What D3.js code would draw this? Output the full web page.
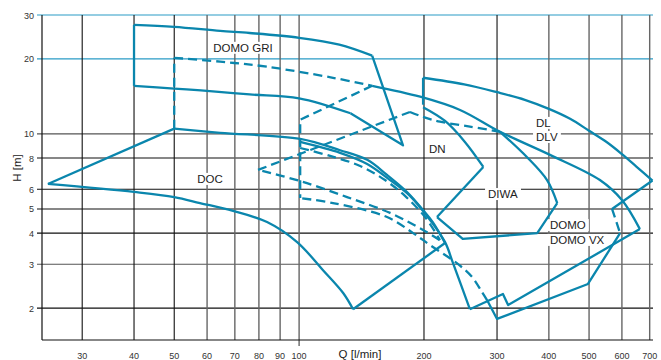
<!DOCTYPE html>
<html><head><meta charset="utf-8">
<script src="https://cdn.jsdelivr.net/npm/d3@7"></script>
<style>body{margin:0;background:#fff}</style>
</head><body><svg id="c" width="661" height="360"></svg>
<script>
// ---- data (Q in l/min, H in m) ----
const xTicks = [30,40,50,60,70,80,90,100,200,300,400,500,600,700];
const yTicks = [2,3,4,5,6,8,10,20,30];
// DOMO GRI
const griTop = [[40,27.4],[50,26.9],[64.5,25.9],[76,25.4],[100,24.3],[125,22.8],[150,20.6]];
const griEdge = [[150,20.6],[178,9.0],[133,12.1]];
const griBottom = [[133,12.1],[100,13.9],[76,14.4],[58,14.95],[50,15.2],[40,15.6]];
const griLeft = [[40,15.6],[40,27.4]];
const griDashTop = [[50,20.2],[64.5,19.5],[83.7,18.6],[120.7,16.8],[150,15.6]];
const griDashEdges = [[50,10.5],[50,20.2]];
const vxDashEdge = [[150,15.6],[100.6,11.4],[100.6,5.53]];
// DOC
const docRise = [[24.8,6.3],[50,10.5]];
const docTop = [[50,10.5],[64.5,10.1],[100.6,9.55],[125.5,8.6],[145.9,7.87],[162.9,6.85],[182,5.85],[199,4.95],[210,4.43],[224.8,3.65]];
const docEnd = [[224.8,3.65],[134.9,1.98]];
const docBottom = [[134.9,1.98],[127.7,2.3],[114.2,2.84],[98.9,3.68],[83.7,4.43],[69.3,4.91],[57.7,5.28],[50,5.58],[40,5.85],[24.8,6.3]];
// DL / DLV
const dlLeft = [[199,13.1],[199,16.8]];
const dlTop = [[199,16.8],[250,15.8],[300,14.7],[350,13.7],[400,12.6],[450,11.5],[500,10.3],[550,9.3],[600,8.3],[650,7.4],[711,6.5]];
const dlRight = [[711,6.5],[568,5.0]];
const dlvLowDash = [[218,3.75],[199,4.12],[165.7,4.82],[130.5,5.58],[100.6,6.47],[79.6,7.17]];
const dlvRiseDash = [[79.6,7.17],[185,12.25]];
const dlvTopDash = [[185,12.25],[199,11.7],[218.6,11.2],[258,10.7],[305,10.2]];
// DOMO / DOMO VX
const domoTop = [[150,15.6],[195.8,14.1],[244.3,12.48],[305,10.2],[402.5,8.24],[531,6.53],[600,5.43],[663,4.15]];
const domoBottom = [[663,4.15],[319,2.06],[310,2.28],[258,1.98]];
const domoMin = [[258,1.98],[235,3.03],[224.8,3.68],[206.9,4.51],[185,5.64],[165.7,6.53],[145.9,7.58],[125.5,8.4],[100.6,9.29]];
const vxMidDash = [[100.6,8.78],[118.8,8.16],[140.3,7.44],[161.1,6.53],[180,5.64],[201.2,4.64],[218.6,3.75]];
const vxRightDash = [[568,5.0],[594,4.0]];
const vxBottom = [[594,4.0],[497,2.5],[300,1.81],[284,2.15]];
const vxMinDash = [[284,2.15],[276,2.32],[261,2.67],[240,3.03],[206.9,3.58],[188.3,4.0],[162.9,4.64],[120.7,5.28],[100.6,5.53]];
// DIWA, DN
const diwaTop = [[305,10.2],[354,8.08],[396,6.53],[419,5.28]];
const diwaEdges = [[419,5.28],[375,4.0],[248,3.79],[215,4.64]];
const dnTop = [[199,12.8],[224.8,11.27],[251,9.29],[278,7.37]];
const dnEdge = [[278,7.37],[215,4.64]];
const labels = [["DOMO GRI",62.1,21.35],["DOC",56.8,6.36],["DN",205.7,8.39],["DL",372.5,10.67],["DLV",372.5,9.37],["DIWA",285.4,5.53],["DOMO",402.5,4.15],["DOMO VX",402.5,3.62]];

const curves = [griTop, griBottom, docTop, docBottom, dlTop, domoTop, domoMin, diwaTop, dnTop];
const edges = [griEdge, griLeft, docRise, docEnd, dlLeft, dlRight, domoBottom, vxBottom, diwaEdges, dnEdge];
const dashCurves = [griDashTop, dlvLowDash, dlvTopDash, vxMidDash, vxMinDash];
const dashEdges = [griDashEdges, vxDashEdge, dlvRiseDash, vxRightDash];

// ---- drawing ----
const svg = d3.select("#c");
const x = d3.scaleLog().domain([24,713]).range([42,653]);
const y = d3.scaleLog().domain([1.49,30]).range([340,15]);
const C = "#0a86ad";
const F = "Liberation Sans, Arial, sans-serif";

const g = svg.append("g");
yTicks.forEach(v=>{
  g.append("line").attr("x1",37).attr("x2",653).attr("y1",y(v)).attr("y2",y(v))
   .attr("stroke", v>=20 ? "#2a9bc6" : ([3,10].includes(v)?"#555":"#111"))
   .attr("stroke-width", v>=20?1.2:1.1);
});
xTicks.forEach(v=>{
  const dark=[30,40,50,200,300].includes(v);
  g.append("line").attr("x1",x(v)).attr("x2",x(v)).attr("y1",15).attr("y2", v===100?346:340)
   .attr("stroke", dark ? "#111" : "#666").attr("stroke-width", dark?1.1:1.4);
});
g.append("line").attr("x1",42).attr("x2",42).attr("y1",15).attr("y2",340).attr("stroke","#111").attr("stroke-width",1.2);
g.append("line").attr("x1",42).attr("x2",653).attr("y1",340).attr("y2",340).attr("stroke","#111").attr("stroke-width",1.2);

g.selectAll(".yt").data(yTicks).enter().append("text")
 .attr("x",34).attr("y",d=>y(d)+3.5).attr("text-anchor","end")
 .attr("font-family",F).attr("font-size",9).attr("fill","#333").text(d=>d);
g.selectAll(".xt").data(xTicks).enter().append("text")
 .attr("x",d=>x(d)).attr("y",358.5).attr("text-anchor","middle")
 .attr("font-family",F).attr("font-size",9).attr("fill","#333").text(d=>d);
g.append("text").attr("x",360).attr("y",357.5).attr("text-anchor","middle")
 .attr("font-family",F).attr("font-size",11.5).attr("fill","#222").text("Q [l/min]");
g.append("text").attr("transform","translate(21,168) rotate(-90)").attr("text-anchor","middle")
 .attr("font-family",F).attr("font-size",11.5).attr("fill","#222").text("H [m]");

labels.forEach(([t,q,h])=>{
  const tx = g.append("text").attr("x",x(q)).attr("y",y(h)).attr("text-anchor","start")
    .attr("font-family",F).attr("font-size",11.5).attr("fill","#222").text(t);
  const b = tx.node().getBBox();
  g.insert("rect","text").attr("x",b.x-3).attr("y",b.y).attr("width",b.width+6).attr("height",b.height).attr("fill","#fff");
});

const lineC = d3.line().x(d=>x(d[0])).y(d=>y(d[1])).curve(d3.curveCatmullRom.alpha(0.5));
const lineL = d3.line().x(d=>x(d[0])).y(d=>y(d[1]));
const draw = (arr, gen, dash) => arr.forEach(s=>svg.append("path").attr("d",gen(s)).attr("fill","none")
  .attr("stroke",C).attr("stroke-width",2.3).attr("stroke-linejoin","round").attr("stroke-dasharray",dash));
draw(curves, lineC, null);
draw(edges, lineL, null);
draw(dashCurves, lineC, "9,5");
draw(dashEdges, lineL, "9,5");
</script></body></html>
